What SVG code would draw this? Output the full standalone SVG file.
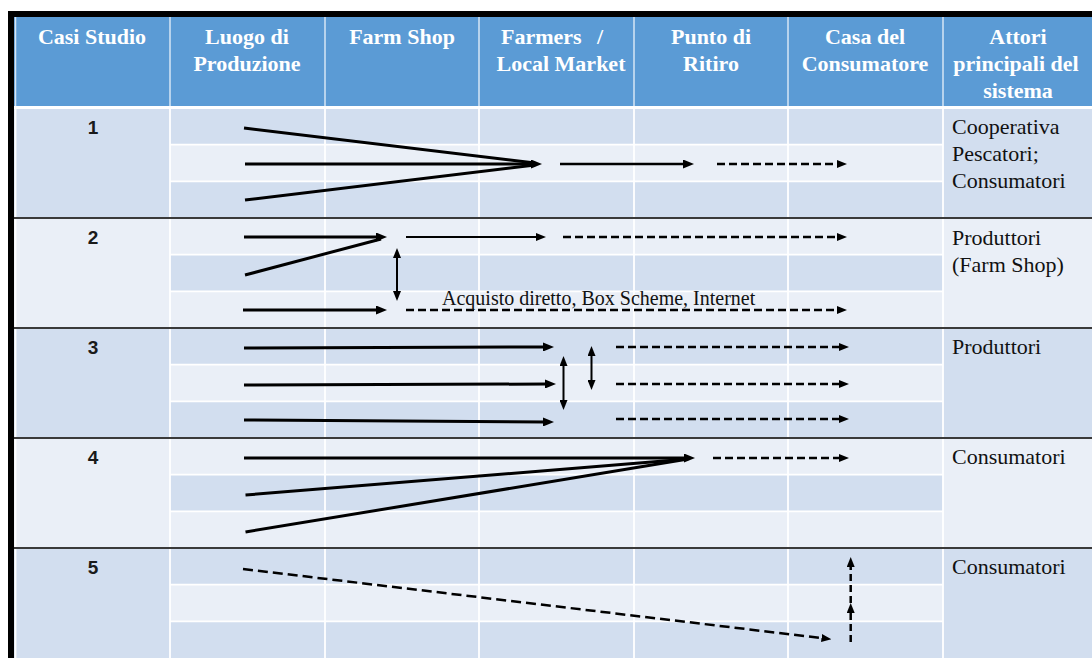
<svg xmlns="http://www.w3.org/2000/svg" width="1092" height="658" viewBox="0 0 1092 658">
<style>
.hd{font-family:'Liberation Serif','Times New Roman',serif;font-weight:bold;font-size:22px;fill:#ffffff;text-anchor:middle}
.num{font-family:'Liberation Sans',Arial,sans-serif;font-weight:bold;font-size:19px;fill:#1a1a1a;text-anchor:middle}
.act{font-family:'Liberation Serif','Times New Roman',serif;font-size:22px;fill:#111111}
.lbl{font-family:'Liberation Serif','Times New Roman',serif;font-size:20px;fill:#111111}
.dk{fill:#D2DEEF}
.lt{fill:#EAEFF7}
.sol{stroke:#000;stroke-width:3;fill:none}
.thin{stroke:#000;stroke-width:2;fill:none}
.dash{stroke:#000;stroke-width:2.5;fill:none;stroke-dasharray:8 4}
.dash5{stroke:#000;stroke-width:2.5;fill:none;stroke-dasharray:10 5}
.dashv{stroke:#000;stroke-width:2.5;fill:none;stroke-dasharray:7 4}
</style>
<defs>
<marker id="a3" markerUnits="userSpaceOnUse" viewBox="0 0 11 9" markerWidth="11" markerHeight="9" refX="2" refY="4.5" orient="auto"><path d="M0,0 L11,4.5 L0,9 z" fill="#000"/></marker>
<marker id="a2" markerUnits="userSpaceOnUse" viewBox="0 0 10 8" markerWidth="10" markerHeight="8" refX="2" refY="4" orient="auto-start-reverse"><path d="M0,0 L10,4 L0,8 z" fill="#000"/></marker>
</defs>

<rect x="0" y="0" width="1092" height="658" fill="#ffffff"/>

<g id="table-body">
<rect x="14" y="108" width="1078" height="110" class="dk"/>
<rect x="170" y="144.7" width="773" height="36.6" class="lt"/>
<rect x="14" y="218" width="1078" height="110" class="lt"/>
<rect x="170" y="254.7" width="773" height="36.6" class="dk"/>
<rect x="14" y="328" width="1078" height="110" class="dk"/>
<rect x="170" y="364.7" width="773" height="36.6" class="lt"/>
<rect x="14" y="438" width="1078" height="110" class="lt"/>
<rect x="170" y="474.7" width="773" height="36.6" class="dk"/>
<rect x="14" y="548" width="1078" height="110" class="dk"/>
<rect x="170" y="584.7" width="773" height="36.6" class="lt"/>
<g stroke="#ffffff" stroke-width="1.8">
<path d="M170,144.7H943M170,181.3H943M170,254.7H943M170,291.3H943M170,364.7H943M170,401.3H943M170,474.7H943M170,511.3H943M170,584.7H943M170,621.3H943"/>
<path d="M170,108V658M325,108V658M479,108V658M634,108V658M788,108V658M943,108V658M15.5,108V658"/>
</g>
<g stroke="#3a3a3a" stroke-width="2">
<path d="M14,218H1092M14,328H1092M14,438H1092M14,548H1092"/>
</g>
</g>

<g id="header">
<rect x="14" y="17" width="1078" height="89.5" fill="#5B9BD5"/>
<rect x="14" y="106" width="1078" height="3" fill="#ffffff"/>
<g stroke="#ffffff" stroke-opacity="0.75" stroke-width="1.5">
<path d="M170,17V106M325,17V106M479,17V106M634,17V106M788,17V106M943,17V106M15.5,17V106"/>
</g>
<text class="hd" x="92" y="44">Casi Studio</text>
<text class="hd" x="247" y="44">Luogo di</text>
<text class="hd" x="247" y="71">Produzione</text>
<text class="hd" x="402" y="44">Farm Shop</text>
<text class="hd" x="501" y="44" style="text-anchor:start">Farmers<tspan x="597">/</tspan></text>
<text class="hd" x="561" y="71">Local Market</text>
<text class="hd" x="711" y="44">Punto di</text>
<text class="hd" x="711" y="71">Ritiro</text>
<text class="hd" x="865" y="44">Casa del</text>
<text class="hd" x="865" y="71">Consumatore</text>
<text class="hd" x="1018" y="44">Attori</text>
<text class="hd" x="1016" y="71">principali del</text>
<text class="hd" x="1018" y="98">sistema</text>
</g>

<g id="frame" fill="#000000">
<rect x="8" y="11" width="1084" height="6"/>
<rect x="8" y="11" width="6" height="647"/>
</g>

<g id="case-1">
<text class="num" x="93" y="134">1</text>
<text class="act" x="952" y="134">Cooperativa</text>
<text class="act" x="952" y="161">Pescatori;</text>
<text class="act" x="952" y="188">Consumatori</text>
</g>
<g id="case-2">
<text class="num" x="93" y="244">2</text>
<text class="act" x="952" y="245">Produttori</text>
<text class="act" x="952" y="272">(Farm Shop)</text>
</g>
<g id="case-3">
<text class="num" x="93" y="354">3</text>
<text class="act" x="952" y="354">Produttori</text>
</g>
<g id="case-4">
<text class="num" x="93" y="464">4</text>
<text class="act" x="952" y="464">Consumatori</text>
</g>
<g id="case-5">
<text class="num" x="93" y="574">5</text>
<text class="act" x="952" y="574">Consumatori</text>
</g>

<g id="connectors">
<line class="sol" x1="244" y1="128" x2="535" y2="163"/>
<line class="sol" x1="245" y1="164" x2="533" y2="164" marker-end="url(#a3)"/>
<line class="sol" x1="245" y1="200" x2="535" y2="165"/>
<line class="sol" style="stroke-width:2.5" x1="560" y1="164" x2="685" y2="164" marker-end="url(#a3)"/>
<line class="dash" x1="717" y1="164" x2="839" y2="164" marker-end="url(#a2)"/>
<line class="sol" x1="244" y1="237" x2="378" y2="237" marker-end="url(#a3)"/>
<line class="sol" x1="245" y1="275" x2="381" y2="239"/>
<line class="sol" x1="243" y1="310" x2="378" y2="310" marker-end="url(#a3)"/>
<line class="thin" x1="397" y1="256" x2="397" y2="293" marker-start="url(#a2)" marker-end="url(#a2)"/>
<line class="thin" style="stroke-width:1.8" x1="406" y1="237" x2="538" y2="237" marker-end="url(#a2)"/>
<line class="dash" x1="563" y1="237" x2="839" y2="237" marker-end="url(#a2)"/>
<line class="dash" x1="406" y1="310" x2="839" y2="310" marker-end="url(#a2)"/>
<text class="lbl" x="442" y="305">Acquisto diretto, Box Scheme, Internet</text>
<line class="sol" x1="244" y1="348" x2="545" y2="347" marker-end="url(#a3)"/>
<line class="sol" x1="244" y1="385" x2="547" y2="384" marker-end="url(#a3)"/>
<line class="sol" x1="244" y1="420" x2="545" y2="422" marker-end="url(#a3)"/>
<line class="thin" x1="563.5" y1="364" x2="563.5" y2="402" marker-start="url(#a2)" marker-end="url(#a2)"/>
<line class="thin" x1="591.5" y1="354" x2="591.5" y2="382" marker-start="url(#a2)" marker-end="url(#a2)"/>
<line class="dash" x1="616" y1="347" x2="841" y2="347" marker-end="url(#a2)"/>
<line class="dash" x1="616" y1="384" x2="841" y2="384" marker-end="url(#a2)"/>
<line class="dash" x1="616" y1="419" x2="841" y2="419" marker-end="url(#a2)"/>
<line class="sol" x1="244" y1="458" x2="686" y2="458" marker-end="url(#a3)"/>
<line class="sol" x1="245.5" y1="495" x2="688" y2="459"/>
<line class="sol" x1="245.5" y1="532" x2="688" y2="459"/>
<line class="dash" x1="713" y1="458" x2="841" y2="458" marker-end="url(#a2)"/>
<line class="dash5" x1="243" y1="569" x2="823.5" y2="638.3" marker-end="url(#a2)"/>
<line class="dashv" x1="850.7" y1="642" x2="850.7" y2="611" marker-end="url(#a2)"/>
<line class="dashv" x1="850.7" y1="603" x2="850.7" y2="565" marker-end="url(#a2)"/>
</g>
</svg>
